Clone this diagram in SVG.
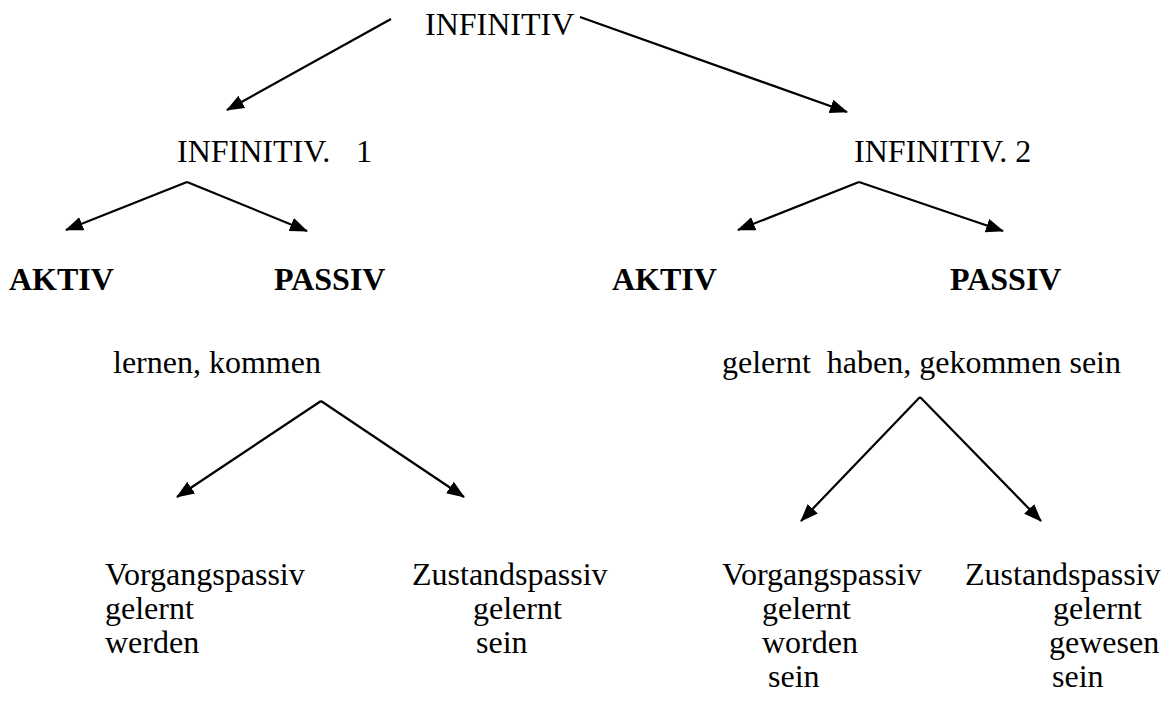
<svg xmlns="http://www.w3.org/2000/svg" width="1167" height="715" viewBox="0 0 1167 715">
  <style>
    text { font-family: "Liberation Serif", "Times New Roman", serif; font-size: 32px; fill: #000; white-space: pre; }
    .b { font-weight: bold; }
    .arrow { stroke: #000; stroke-width: 2.2; fill: none; marker-end: url(#ah); }
  </style>
  <defs>
    <marker id="ah" markerUnits="userSpaceOnUse" markerWidth="20" markerHeight="16" refX="17" refY="7" orient="auto">
      <path d="M0,0 L18,7 L0,14 Z" fill="#000"/>
    </marker>
  </defs>
  <rect width="1167" height="715" fill="#fff"/>

  <g id="connectors">
    <line class="arrow" x1="391" y1="19" x2="227" y2="110"/>
    <line class="arrow" x1="580" y1="17" x2="847" y2="112"/>
    <line class="arrow" x1="187" y1="182" x2="66" y2="230"/>
    <line class="arrow" x1="187" y1="182" x2="307" y2="231"/>
    <line class="arrow" x1="859" y1="182" x2="738" y2="230"/>
    <line class="arrow" x1="859" y1="182" x2="1003" y2="231"/>
    <line class="arrow" x1="321" y1="401" x2="177" y2="497"/>
    <line class="arrow" x1="321" y1="401" x2="464" y2="497"/>
    <line class="arrow" x1="920" y1="397" x2="801" y2="521"/>
    <line class="arrow" x1="920" y1="397" x2="1041" y2="521"/>
  </g>

  <g id="node-infinitiv"><text x="425" y="35">INFINITIV</text></g>
  <g id="node-infinitiv1"><text x="177" y="162">INFINITIV.<tspan x="356">1</tspan></text></g>
  <g id="node-infinitiv2"><text x="854" y="162">INFINITIV. 2</text></g>

  <g id="node-aktiv1"><text class="b" x="9" y="290">AKTIV</text></g>
  <g id="node-passiv1"><text class="b" x="274" y="290">PASSIV</text></g>
  <g id="node-aktiv2"><text class="b" x="612" y="290">AKTIV</text></g>
  <g id="node-passiv2"><text class="b" x="950" y="290">PASSIV</text></g>

  <g id="node-forms1"><text x="113" y="373">lernen, kommen</text></g>
  <g id="node-forms2"><text x="722" y="373">gelernt  haben, gekommen sein</text></g>

  <g id="node-vorgang1">
    <text x="105" y="585">Vorgangspassiv</text>
    <text x="105" y="619">gelernt</text>
    <text x="105" y="653">werden</text>
  </g>
  <g id="node-zustand1">
    <text x="412" y="585">Zustandspassiv</text>
    <text x="473" y="619">gelernt</text>
    <text x="476" y="653">sein</text>
  </g>
  <g id="node-vorgang2">
    <text x="722" y="585">Vorgangspassiv</text>
    <text x="762" y="619">gelernt</text>
    <text x="762" y="653">worden</text>
    <text x="768" y="687">sein</text>
  </g>
  <g id="node-zustand2">
    <text x="965" y="585">Zustandspassiv</text>
    <text x="1053" y="619">gelernt</text>
    <text x="1049" y="653">gewesen</text>
    <text x="1052" y="687">sein</text>
  </g>
</svg>
